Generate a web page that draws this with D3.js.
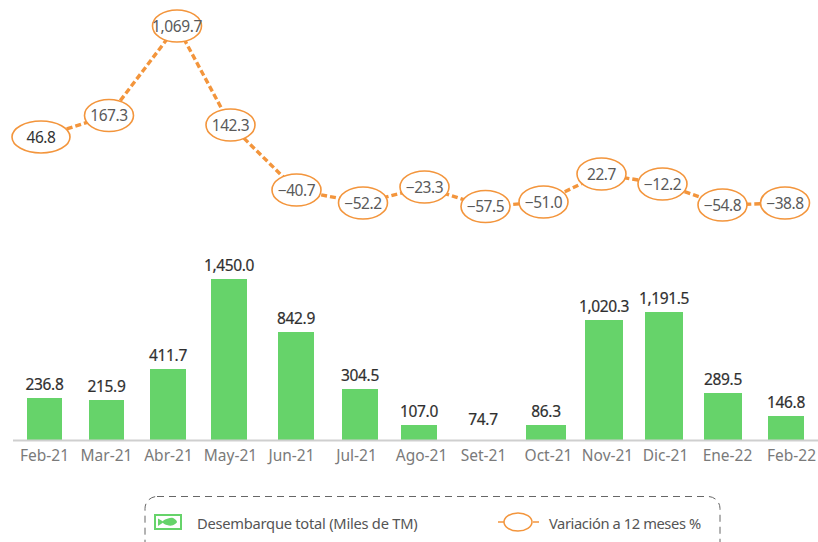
<!DOCTYPE html>
<html>
<head>
<meta charset="utf-8">
<script src="https://cdnjs.cloudflare.com/ajax/libs/d3/7.8.5/d3.min.js"></script>
<style>
html,body{margin:0;padding:0;background:#fff;overflow:hidden}
svg{display:block;font-family:"Noto Sans",sans-serif}
</style>
</head>
<body>
<div id="chart"></div>
<script>
const categories = ["Feb-21","Mar-21","Abr-21","May-21","Jun-21","Jul-21","Ago-21","Set-21","Oct-21","Nov-21","Dic-21","Ene-22","Feb-22"];
const landings = [236.8,215.9,411.7,1450.0,842.9,304.5,107.0,74.7,86.3,1020.3,1191.5,289.5,146.8];
const variation = [46.8,167.3,1069.7,142.3,-40.7,-52.2,-23.3,-57.5,-51.0,22.7,-12.2,-54.8,-38.8];
const legendBarLabel = "Desembarque total (Miles de TM)";
const legendLineLabel = "Variación a 12 meses %";

const W = 818, H = 542, baseline = 440;
const idx = categories.map((_, i) => i);
const fmt = d3.format(",.1f");

// The source graphic was hand-placed, so its scales are piecewise rather than proportional.
const xAxisScale = d3.scaleLinear().domain(idx).range([44,106,168,230,291,356,421,483,548,607,665,727,791]);
const barLeft  = d3.scaleLinear().domain(idx).range([27,89,150,211,278,342,401,465,526,585,645,704,768]);
const barRight = d3.scaleLinear().domain(idx).range([62,124,186,247,314,378,437,501,566,623,683,742,804]);
const xLine = d3.scaleLinear().domain(idx).range([41,109,177,230.5,296.5,363,424.5,485.5,543.5,601.5,662.5,722.5,785]);

const yBar = d3.scaleLinear()
  .domain([74.7,86.3,107,146.8,215.9,236.8,289.5,304.5,411.7,842.9,1020.3,1191.5,1450])
  .range([440,425,425,416,400,398,393,389,369,332,320,312,279]);
const yLine = d3.scaleLinear()
  .domain([-57.5,-54.8,-52.2,-51,-40.7,-38.8,-23.3,-12.2,22.7,46.8,142.3,167.3,1069.7])
  .range([206.5,205,203,202,190,203,187,184,174,137,125,115.5,26]);

const svg = d3.select("#chart").append("svg").attr("width", W).attr("height", H);
const orange = "#F3953C", green = "#66D36A";

// Bars
svg.append("g").selectAll("rect").data(landings).join("rect")
  .attr("x", (d,i) => barLeft(i))
  .attr("width", (d,i) => barRight(i) - barLeft(i))
  .attr("y", d => yBar(d))
  .attr("height", d => baseline - yBar(d))
  .attr("fill", green);

svg.append("g").selectAll("text").data(landings).join("text")
  .attr("x", (d,i) => (barLeft(i) + barRight(i)) / 2)
  .attr("y", d => (d === 74.7 ? 425 : yBar(d) - 8))
  .attr("text-anchor", "middle")
  .attr("font-size", 15.5)
  .attr("fill", "#2f2f2f")
  .attr("stroke", "#2f2f2f").attr("stroke-width", 0.2)
  .attr("letter-spacing", "-0.35px")
  .text(d => fmt(d));

// Axis
const axis = d3.axisBottom(xAxisScale).tickValues(idx).tickFormat(i => categories[i]).tickSize(0).tickPadding(10);
const ax = svg.append("g").attr("transform", `translate(0,${baseline})`).call(axis);
ax.select(".domain").remove();
ax.selectAll("text").attr("font-size", 15.5).attr("font-family", '"Noto Sans",sans-serif').attr("fill", "#7a7a7a");
svg.append("line").attr("x1", 13).attr("x2", W).attr("y1", baseline + 0.5).attr("y2", baseline + 0.5)
  .attr("stroke", "#cfcfcf").attr("stroke-width", 2);

// Line
const line = d3.line().x((d,i) => xLine(i)).y(d => yLine(d));
svg.append("path").datum(variation).attr("d", line).attr("fill", "none")
  .attr("stroke", orange).attr("stroke-width", 3.4).attr("stroke-dasharray", "6,3");

const pts = svg.append("g").selectAll("g").data(variation).join("g")
  .attr("transform", (d,i) => `translate(${xLine(i)},${yLine(d)})`);
pts.append("ellipse")
  .attr("rx", (d,i) => i === 0 ? 29 : 24.5).attr("ry", 16)
  .attr("fill", "#fff").attr("stroke", orange).attr("stroke-width", 1.6);
pts.append("text")
  .attr("text-anchor", "middle").attr("dy", "0.36em")
  .attr("font-size", 15.5)
  .attr("fill", (d,i) => i === 0 ? "#333" : "#5a5a5a")
  .attr("letter-spacing", "-0.4px")
  .text(d => fmt(d));

// Legend
svg.append("rect").attr("x", 145).attr("y", 496.5).attr("width", 575).attr("height", 70).attr("rx", 12)
  .attr("fill", "none").attr("stroke", "#666").attr("stroke-dasharray", "7,5");
const lg = svg.append("g");
lg.append("rect").attr("x", 155).attr("y", 515).attr("width", 26).attr("height", 14)
  .attr("fill", "#fff").attr("stroke", green).attr("stroke-width", 2);
lg.append("path").attr("fill", green)
  .attr("d", d3.line().curve(d3.curveCatmullRomClosed)([[163,521],[168,518.5],[173,518],[177,522],[172,525.5],[167,525],[163,523]]));
lg.append("path").attr("fill", green).attr("d", "M158,518.5L164,522L158,526Z");
lg.append("text").attr("x", 197).attr("y", 529).attr("font-size", 14.7).attr("fill", "#555")
  .attr("letter-spacing", "-0.25px").text(legendBarLabel);
lg.append("line").attr("x1", 498).attr("x2", 504).attr("y1", 522).attr("y2", 522)
  .attr("stroke", orange).attr("stroke-width", 1.5);
lg.append("line").attr("x1", 533).attr("x2", 539).attr("y1", 522).attr("y2", 522)
  .attr("stroke", orange).attr("stroke-width", 1.5);
lg.append("ellipse").attr("cx", 518).attr("cy", 522).attr("rx", 14).attr("ry", 9)
  .attr("fill", "#fff").attr("stroke", orange).attr("stroke-width", 1.5);
lg.append("text").attr("x", 549).attr("y", 529).attr("font-size", 14.7).attr("fill", "#555")
  .attr("letter-spacing", "-0.4px").text(legendLineLabel);
</script>
</body>
</html>
